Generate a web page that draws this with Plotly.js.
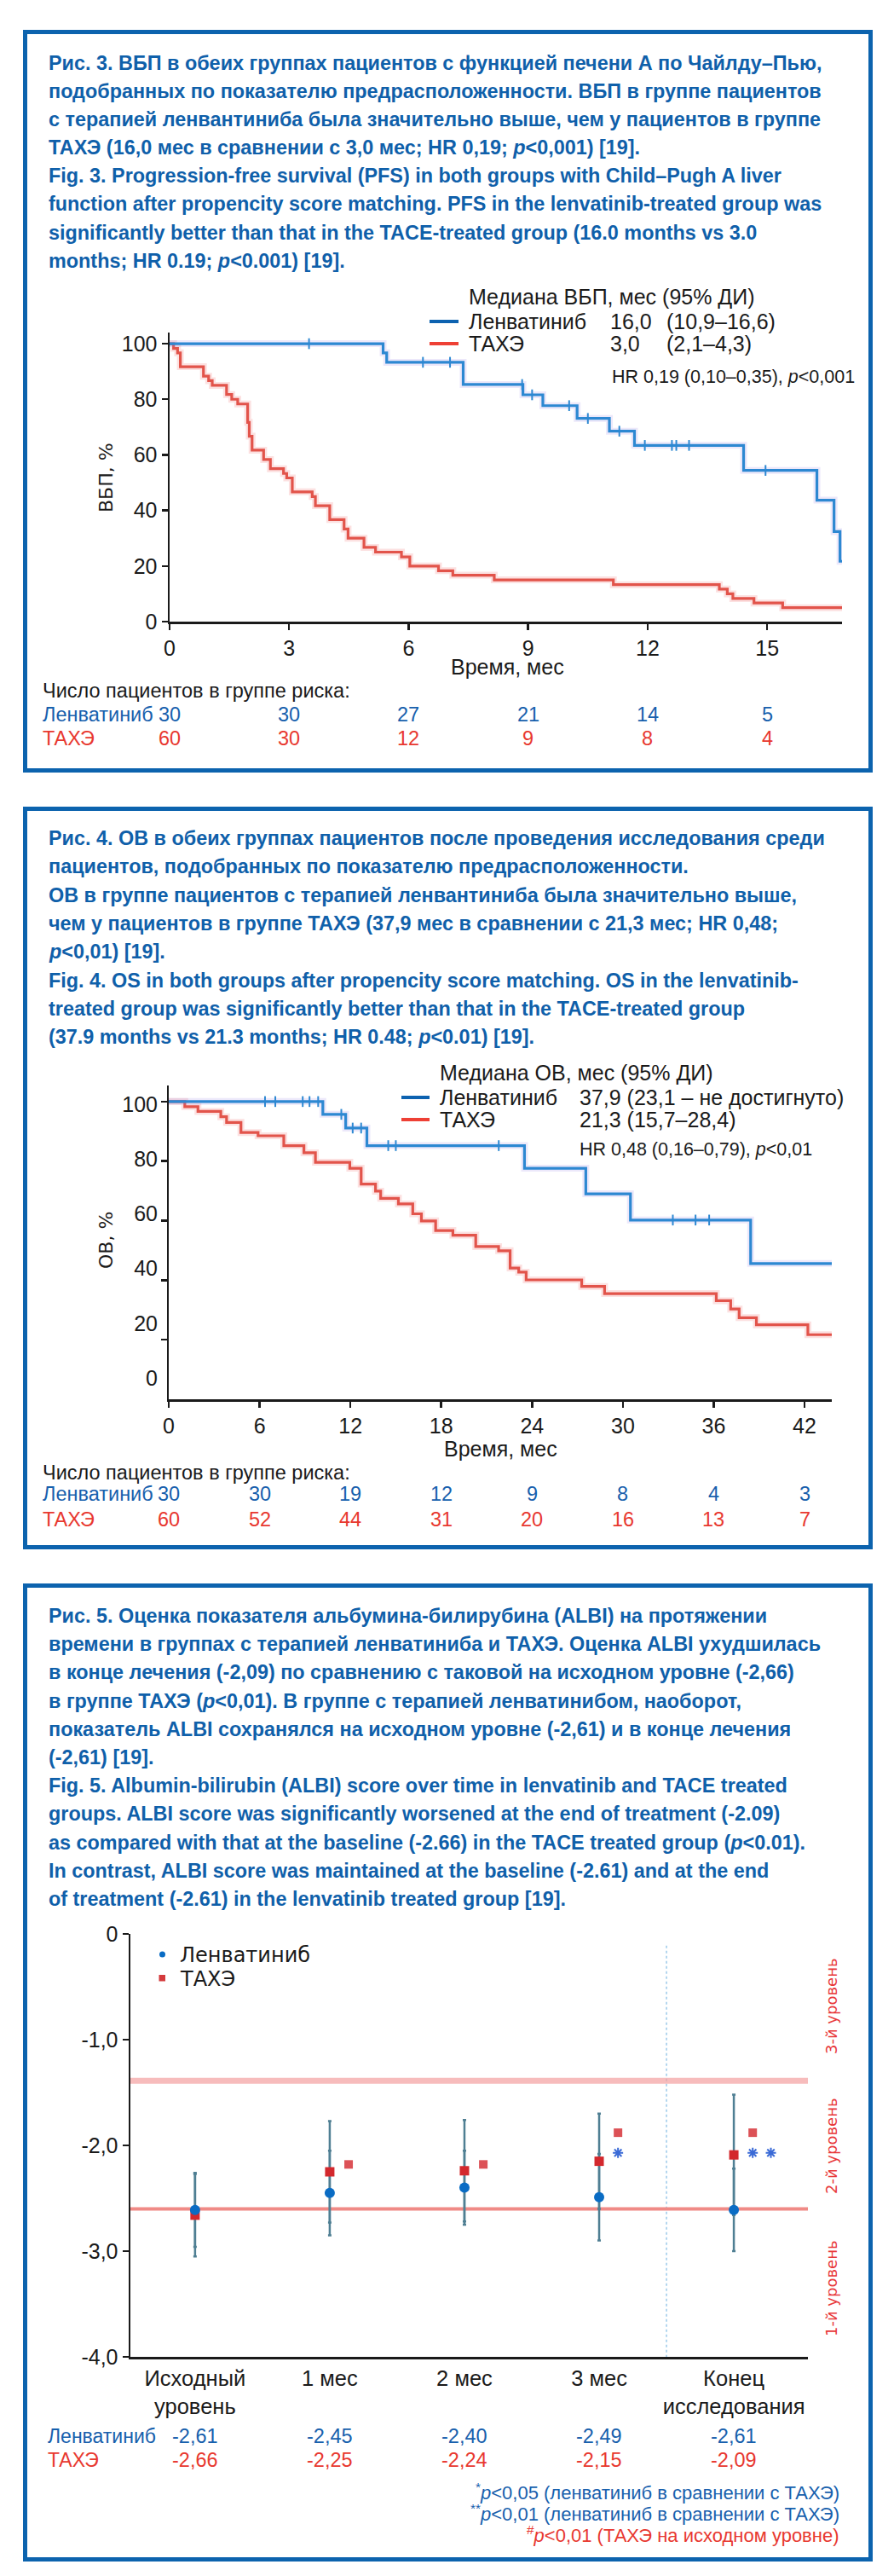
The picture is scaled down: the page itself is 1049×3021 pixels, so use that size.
<!DOCTYPE html>
<html><head><meta charset="utf-8">
<script src="https://cdn.plot.ly/plotly-3.0.1.min.js"></script>
<style>html,body{margin:0;padding:0;background:#fff}#chart{width:1049px;height:3021px}</style>
</head><body><div id="chart"></div>
<script>
// ---------------- DATA ----------------
// Fig 3: PFS (months, %)
const pfsLenvT = [0, 5.36, 5.45, 7.37, 8.87, 9.37, 10.23, 11.04, 11.67, 14.41, 16.25, 16.68, 16.83, 17.04];
const pfsLenvS = [100, 96.7, 93.3, 85.3, 81.6, 77.7, 73.1, 68.5, 63.4, 54.4, 43.7, 32.4, 21.7, 21.7];
const pfsLenvCensT = [3.5, 6.36, 7.04, 8.85, 9.1, 10.03, 10.5, 11.29, 11.93, 12.61, 12.72, 13.04, 14.96];
const pfsLenvCensS = [100, 93.3, 93.3, 85.3, 81.6, 77.7, 73.1, 68.5, 63.4, 63.4, 63.4, 63.4, 54.4];
const pfsTaceT = [0, 0.1, 0.2, 0.27, 0.85, 0.98, 1.07, 1.43, 1.56, 1.71, 1.96, 2.0, 2.07, 2.36, 2.53, 2.86, 2.94, 3.08, 3.58, 3.66, 4.02, 4.38, 4.48, 4.88, 5.17, 5.82, 6.03, 6.75, 7.11, 8.15, 11.14, 13.8, 14.0, 14.14, 14.67, 15.39, 17.04];
const pfsTaceS = [100, 98.3, 96.7, 91.7, 88.3, 86.7, 85.0, 81.7, 80.0, 78.3, 71.7, 66.7, 61.7, 58.3, 55.0, 53.3, 51.7, 46.7, 45.0, 41.7, 36.7, 33.3, 30.0, 26.7, 25.0, 23.3, 20.0, 18.3, 16.7, 15.0, 13.3, 11.7, 10.0, 8.3, 6.7, 5.0, 5.0];
const pfsTicks = [0, 3, 6, 9, 12, 15];
const pfsRiskLenv = [30, 30, 27, 21, 14, 5];
const pfsRiskTace = [60, 30, 12, 9, 8, 4];

// Fig 4: OS (months, %)
const osLenvT = [0, 10.18, 11.69, 13.09, 23.5, 27.55, 30.5, 38.44, 44.04];
const osLenvS = [100, 95.7, 91.1, 85.2, 77.6, 69.0, 60.2, 45.6, 45.6];
const osLenvCensT = [6.36, 7.04, 8.85, 9.3, 9.87, 11.4, 12.15, 12.71, 14.5, 15.0, 21.8, 33.3, 34.8, 35.7];
const osLenvCensS = [100, 100, 100, 100, 100, 95.7, 91.1, 91.1, 85.2, 85.2, 85.2, 60.2, 60.2, 60.2];
const osTaceT = [0, 1.06, 1.93, 3.44, 3.82, 4.77, 5.9, 7.6, 8.93, 9.69, 11.96, 12.71, 13.66, 14.0, 15.17, 16.12, 16.69, 17.63, 18.77, 20.28, 21.79, 22.55, 23.12, 23.61, 27.28, 28.79, 36.17, 37.12, 37.68, 38.82, 42.22, 44.1];
const osTaceS = [100, 98.3, 96.7, 94.9, 93.0, 89.6, 88.5, 85.2, 82.8, 79.6, 77.6, 72.3, 69.9, 67.5, 65.6, 62.3, 59.9, 56.7, 55.1, 51.3, 49.9, 44.1, 42.7, 40.1, 37.9, 35.5, 33.1, 30.3, 27.4, 25.0, 21.7, 21.7];
const osTicks = [0, 6, 12, 18, 24, 30, 36, 42];
const osYTicks = [0, 20, 40, 60, 80, 100];
const osRiskLenv = [30, 30, 19, 12, 9, 8, 4, 3];
const osRiskTace = [60, 52, 44, 31, 20, 16, 13, 7];

// Fig 5: ALBI
const albiCats = ['Исходный<br>уровень', '1 мес', '2 мес', '3 мес', 'Конец<br>исследования'];
const albiLenv = [-2.61, -2.45, -2.40, -2.49, -2.61];
const albiTace = [-2.66, -2.25, -2.24, -2.15, -2.09];
const albiLenvSD = [0.35, 0.40, 0.35, 0.41, 0.39];
const albiTaceSD = [0.39, 0.48, 0.48, 0.45, 0.57];
const hashCats = [1, 2, 3, 4];
const hashY = [-2.18, -2.18, -1.88, -1.88];
const starCats = [3, 4, 4];
const starY = [-2.07, -2.07, -2.07];
const albiGrades = [-1.39, -2.60];
const albiTicks = [0, -1, -2, -3, -4];
const albiTickText = ['0', '-1,0', '-2,0', '-3,0', '-4,0'];
const albiLenvLabels = ['-2,61', '-2,45', '-2,40', '-2,49', '-2,61'];
const albiTaceLabels = ['-2,66', '-2,25', '-2,24', '-2,15', '-2,09'];

// Captions
const cap3 = [
 'Рис. 3. ВБП в обеих группах пациентов с функцией печени А по Чайлду–Пью,',
 'подобранных по показателю предрасположенности. ВБП в группе пациентов',
 'с терапией ленвантиниба была значительно выше, чем у пациентов в группе',
 'ТАХЭ (16,0 мес в сравнении с 3,0 мес; HR 0,19; <i>p</i><0,001) [19].',
 'Fig. 3. Progression-free survival (PFS) in both groups with Child–Pugh A liver',
 'function after propencity score matching. PFS in the lenvatinib-treated group was',
 'significantly better than that in the TACE-treated group (16.0 months vs 3.0',
 'months; HR 0.19; <i>p</i><0.001) [19].'
];
const cap4 = [
 'Рис. 4. ОВ в обеих группах пациентов после проведения исследования среди',
 'пациентов, подобранных по показателю предрасположенности.',
 'ОВ в группе пациентов с терапией ленвантиниба была значительно выше,',
 'чем у пациентов в группе ТАХЭ (37,9 мес в сравнении с 21,3 мес; HR 0,48;',
 '<i>p</i><0,01) [19].',
 'Fig. 4. OS in both groups after propencity score matching. OS in the lenvatinib-',
 'treated group was significantly better than that in the TACE-treated group',
 '(37.9 months vs 21.3 months; HR 0.48; <i>p</i><0.01) [19].'
];
const cap5 = [
 'Рис. 5. Оценка показателя альбумина-билирубина (ALBI) на протяжении',
 'времени в группах с терапией ленватиниба и ТАХЭ. Оценка ALBI ухудшилась',
 'в конце лечения (-2,09) по сравнению с таковой на исходном уровне (-2,66)',
 'в группе ТАХЭ (<i>p</i><0,01). В группе с терапией ленватинибом, наоборот,',
 'показатель ALBI сохранялся на исходном уровне (-2,61) и в конце лечения',
 '(-2,61) [19].',
 'Fig. 5. Albumin-bilirubin (ALBI) score over time in lenvatinib and TACE treated',
 'groups. ALBI score was significantly worsened at the end of treatment (-2.09)',
 'as compared with that at the baseline (-2.66) in the TACE treated group (<i>p</i><0.01).',
 'In contrast, ALBI score was maintained at the baseline (-2.61) and at the end',
 'of treatment (-2.61) in the lenvatinib treated group [19].'
];

// ---------------- STYLE / LAYOUT ----------------
const W = 1049, H = 3021;
const SANS = 'Liberation Sans, Arial, sans-serif';
const DEJA = 'DejaVu Sans, sans-serif';
const CAPBLUE = '#0f60aa';
const BOX = '#0c63ae';
const BLUE = '#2d88d2', RED = '#e2544b';
const TBLUE = '#1760ad', TRED = '#e8382f';
const STAR = '#3a6ad6';
const INK = '#1a1a1a';
const px = x => x / W;
const py = y => 1 - y / H;

const annotations = [];
function txt(text, x, y, o) {
  o = o || {};
  annotations.push(Object.assign({
    text: text, x: px(x), y: py(y), xref: 'paper', yref: 'paper',
    showarrow: false, xanchor: 'left', yanchor: 'middle',
    font: {family: SANS, size: 23.5, color: INK}
  }, o));
}
const F = (size, color, family) => ({font: {family: family || SANS, size: size, color: color || INK}});
function caption(lines, y0, step) {
  lines.forEach((l, i) => txt(l, 55, y0 + i * step,
    {font: {family: SANS, size: 23.4, color: CAPBLUE, weight: 'bold'}}));
}
caption(cap3, 74, 33.1);
caption(cap4, 983, 33.3);
caption(cap5, 1895, 33.2);

const shapes = [];
function box(y0, y1) {
  shapes.push({type: 'rect', xref: 'paper', yref: 'paper', x0: px(29.5), x1: px(1021.5),
    y0: py(y0), y1: py(y1), line: {color: BOX, width: 5}, fillcolor: 'rgba(0,0,0,0)'});
}
box(37.5, 903.5); box(948.5, 1814.5); box(1859.5, 3001.5);
function legLine(x0, x1, y, c) {
  shapes.push({type: 'line', xref: 'paper', yref: 'paper', x0: px(x0), x1: px(x1), y0: py(y), y1: py(y),
    line: {color: c, width: 4}});
}

// ---- Fig 3 legend / texts ----
txt('Медиана ВБП, мес (95% ДИ)', 548, 348, F(25));
legLine(504, 538, 377, '#0d62b0'); legLine(504, 538, 403, '#ee4035');
txt('Ленватиниб', 548, 377, F(25));
txt('16,0', 714, 377, F(25));
txt('(10,9–16,6)', 780, 377, F(25));
txt('ТАХЭ', 548, 403, F(25));
txt('3,0', 714, 403, F(25));
txt('(2,1–4,3)', 780, 403, F(25));
txt('HR 0,19 (0,10–0,35), <i>p</i><0,001', 716, 442, F(21.5));
txt('ВБП, %', 124, 560, Object.assign({textangle: -90, xanchor: 'center'}, F(22, INK, DEJA)));
txt('Время, мес', 595, 782, Object.assign({xanchor: 'center'}, F(25)));
txt('Число пациентов в группе риска:', 48, 810, F(23.5));
txt('Ленватиниб', 48, 838, F(23.5, TBLUE));
txt('ТАХЭ', 48, 866, F(23.5, TRED));
function riskRow(vals, ticks, xref, y, color) {
  ticks.forEach((t, i) => annotations.push({text: String(vals[i]), x: t, xref: xref, y: py(y), yref: 'paper',
    showarrow: false, xanchor: 'center', yanchor: 'middle', font: {family: SANS, size: 23.5, color: color}}));
}
riskRow(pfsRiskLenv, pfsTicks, 'x', 838, TBLUE);
riskRow(pfsRiskTace, pfsTicks, 'x', 866, TRED);

// ---- Fig 4 legend / texts ----
txt('Медиана ОВ, мес (95% ДИ)', 514, 1258, F(25));
legLine(471, 504, 1287, '#0d62b0'); legLine(471, 504, 1313, '#ee4035');
txt('Ленватиниб', 514, 1287, F(25));
txt('37,9 (23,1 – не достигнуто)', 678, 1287, F(25));
txt('ТАХЭ', 514, 1313, F(25));
txt('21,3 (15,7–28,4)', 678, 1313, F(25));
txt('HR 0,48 (0,16–0,79), <i>p</i><0,01', 678, 1348, F(21.5));
txt('ОВ, %', 124, 1455, Object.assign({textangle: -90, xanchor: 'center'}, F(22, INK, DEJA)));
txt('Время, мес', 587, 1699, Object.assign({xanchor: 'center'}, F(25)));
txt('Число пациентов в группе риска:', 48, 1727, F(23.5));
txt('Ленватиниб', 48, 1752, F(23.5, TBLUE));
txt('ТАХЭ', 48, 1782, F(23.5, TRED));
riskRow(osRiskLenv, osTicks, 'x2', 1752, TBLUE);
riskRow(osRiskTace, osTicks, 'x2', 1782, TRED);

// ---- Fig 5 texts ----
shapes.push({type: 'circle', xref: 'paper', yref: 'paper', x0: px(187), x1: px(194), y0: py(2288.5), y1: py(2295.5),
  fillcolor: '#0a6cc4', line: {width: 0}});
shapes.push({type: 'rect', xref: 'paper', yref: 'paper', x0: px(186.5), x1: px(194), y0: py(2316), y1: py(2323.5),
  fillcolor: '#d43a3c', line: {width: 0}});
txt('Ленватиниб', 209, 2293, F(24, INK, DEJA));
txt('ТАХЭ', 209, 2321, F(24, INK, DEJA));
['3-й уровень', '2-й уровень', '1-й уровень'].forEach((s, i) =>
  txt(s, 975, [2353, 2517, 2684][i], Object.assign({textangle: -90, xanchor: 'center'}, F(18, '#e8383a', DEJA))));
txt('Ленватиниб', 54, 2857, F(23, TBLUE));
txt('ТАХЭ', 54, 2885, F(23, TRED));
riskRow(albiLenvLabels, albiCats.map((c, i) => i), 'x3', 2857, TBLUE);
riskRow(albiTaceLabels, albiCats.map((c, i) => i), 'x3', 2885, TRED);
txt('<sup>*</sup><i>p</i><0,05 (ленватиниб в сравнении с ТАХЭ)', 987, 2922, Object.assign({xanchor: 'right'}, F(22, TBLUE)));
txt('<sup>**</sup><i>p</i><0,01 (ленватиниб в сравнении с ТАХЭ)', 987, 2947, Object.assign({xanchor: 'right'}, F(22, TBLUE)));
txt('<sup>#</sup><i>p</i><0,01 (ТАХЭ на исходном уровне)', 987, 2972, Object.assign({xanchor: 'right'}, F(22, TRED)));

// Fig 5 reference lines
shapes.push({type: 'line', xref: 'x3', yref: 'y3', x0: 3.5, x1: 3.5, y0: -0.11, y1: -4, layer: 'below',
  line: {color: '#9ccaea', width: 1.5, dash: 'dot'}});
shapes.push({type: 'line', xref: 'x3', yref: 'y3', x0: -0.48, x1: 4.57, y0: albiGrades[0], y1: albiGrades[0], layer: 'below',
  line: {color: 'rgba(244,160,160,0.7)', width: 7}});
shapes.push({type: 'line', xref: 'x3', yref: 'y3', x0: -0.48, x1: 4.57, y0: albiGrades[1], y1: albiGrades[1], layer: 'below',
  line: {color: '#f08a86', width: 4}});

// ---------------- TRACES ----------------
function km(xs, ys, color, halo, xa, ya) {
  return [
    {x: xs, y: ys, xaxis: xa, yaxis: ya, mode: 'lines', line: {shape: 'hv', color: halo, width: 8}, hoverinfo: 'skip'},
    {x: xs, y: ys, xaxis: xa, yaxis: ya, mode: 'lines', line: {shape: 'hv', color: color, width: 3.2}}
  ];
}
function cens(xs, ys, color, xa, ya) {
  return {x: xs, y: ys, xaxis: xa, yaxis: ya, mode: 'markers',
    marker: {symbol: 'line-ns-open', size: 9, color: color, line: {color: color, width: 2}}};
}
const HALO_B = 'rgba(150,130,230,0.18)', HALO_R = 'rgba(240,120,120,0.22)';
const idx = albiCats.map((c, i) => i);
const traces = [].concat(
  km(pfsTaceT, pfsTaceS, RED, HALO_R, 'x', 'y'),
  km(pfsLenvT, pfsLenvS, BLUE, HALO_B, 'x', 'y'),
  [cens(pfsLenvCensT, pfsLenvCensS, BLUE, 'x', 'y')],
  km(osTaceT, osTaceS, RED, HALO_R, 'x2', 'y2'),
  km(osLenvT, osLenvS, BLUE, HALO_B, 'x2', 'y2'),
  [cens(osLenvCensT, osLenvCensS, BLUE, 'x2', 'y2')],
  // invisible carrier so the overlaid label axis of Fig 4 is drawn
  [{x: [0], y: [0], xaxis: 'x2', yaxis: 'y4', mode: 'markers', marker: {size: 1, color: 'rgba(0,0,0,0)'}, hoverinfo: 'skip'}],
  [
    {x: idx, y: albiLenv, xaxis: 'x3', yaxis: 'y3', mode: 'markers', marker: {size: 1, color: 'rgba(0,0,0,0)'},
      error_y: {type: 'data', array: albiLenvSD, color: '#4f7f93', thickness: 2.5, width: 2}},
    {x: idx, y: albiTace, xaxis: 'x3', yaxis: 'y3', mode: 'markers',
      marker: {symbol: 'square', size: 11, color: '#d3282d'},
      error_y: {type: 'data', array: albiTaceSD, color: '#4f7f93', thickness: 2.5, width: 2}},
    {x: idx, y: albiLenv, xaxis: 'x3', yaxis: 'y3', mode: 'markers',
      marker: {symbol: 'circle', size: 12, color: '#0a6cc4'}},
    {x: hashCats.map(c => c + 0.14), y: hashY, xaxis: 'x3', yaxis: 'y3', mode: 'markers',
      marker: {symbol: 'square', size: 10, color: 'rgba(214,50,56,0.85)'}},
    {x: starCats.map((c, i) => c + (i === 2 ? 0.275 : 0.14)), y: starY, xaxis: 'x3', yaxis: 'y3', mode: 'markers',
      marker: {symbol: 'asterisk-open', size: 10, color: STAR, line: {color: STAR, width: 2}}}
  ]
);

const axBase = {showgrid: false, zeroline: false, showline: true, linecolor: INK, linewidth: 2.5,
  ticks: 'outside', ticklen: 7, tickwidth: 2.5, tickcolor: INK,
  tickfont: {family: SANS, size: 25, color: INK}, fixedrange: true};

const layout = {
  width: W, height: H, margin: {l: 0, r: 0, t: 0, b: 0}, showlegend: false,
  paper_bgcolor: '#fff', plot_bgcolor: 'rgba(0,0,0,0)',
  xaxis: Object.assign({}, axBase, {domain: [px(199), px(988)], range: [0, 16.88], anchor: 'y',
    tickvals: pfsTicks, linewidth: 3}),
  yaxis: Object.assign({}, axBase, {domain: [py(729), py(390)], range: [0, 104], anchor: 'x',
    tickvals: [0, 20, 40, 60, 80, 100]}),
  xaxis2: Object.assign({}, axBase, {domain: [px(198), px(976)], range: [0, 43.8], anchor: 'y2',
    tickvals: osTicks, linewidth: 3}),
  yaxis2: Object.assign({}, axBase, {domain: [py(1641), py(1273)], range: [0, 105.4], anchor: 'x2',
    tickvals: [20, 40, 60, 80, 100], showticklabels: false}),
  yaxis4: Object.assign({}, axBase, {overlaying: 'y2', anchor: 'x2', side: 'left', range: [-7.79, 106.85],
    tickvals: osYTicks, showline: false, tickcolor: 'rgba(0,0,0,0)'}),
  xaxis3: Object.assign({}, axBase, {domain: [px(153), px(948)], range: [-0.48, 4.55], anchor: 'y3',
    tickvals: idx, ticktext: albiCats, ticks: '', linewidth: 3, tickfont: {family: SANS, size: 25.5, color: INK}}),
  yaxis3: Object.assign({}, axBase, {domain: [py(2764), py(2268)], range: [-4, 0], anchor: 'x3',
    tickvals: albiTicks, ticktext: albiTickText}),
  shapes: shapes,
  annotations: annotations
};

Plotly.newPlot('chart', traces, layout, {staticPlot: true, displayModeBar: false});
</script>
</body></html>
